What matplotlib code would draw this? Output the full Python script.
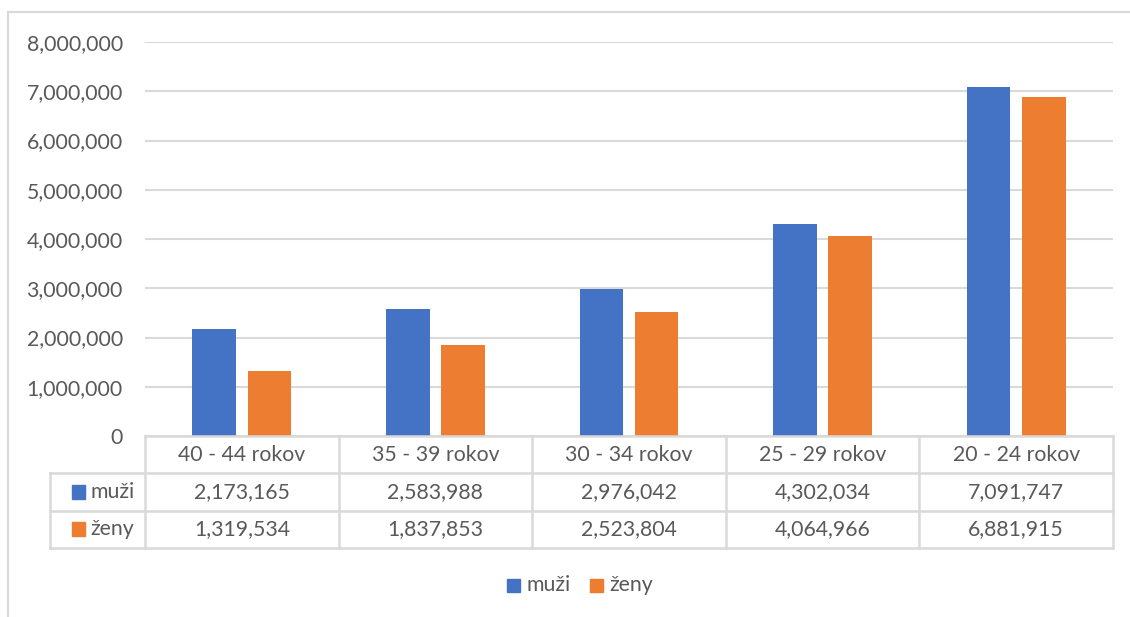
import matplotlib.pyplot as plt
import numpy as np
from matplotlib.patches import Rectangle

# data
categories = ["40 - 44 rokov", "35 - 39 rokov", "30 - 34 rokov", "25 - 29 rokov", "20 - 24 rokov"]
muzi = [2173165, 2583988, 2976042, 4302034, 7091747]
zeny = [1319534, 1837853, 2523804, 4064966, 6881915]
series_names = ["muži", "ženy"]
yticks = [0, 1000000, 2000000, 3000000, 4000000, 5000000, 6000000, 7000000, 8000000]

blue = "#4472C4"
orange = "#ED7D31"
grid_c = "#d9d9d9"
txt_c = "#595959"
plt.rcParams['font.family'] = ['Lato', 'DejaVu Sans']

W, H = 1130, 617
fig = plt.figure(figsize=(W / 100, H / 100), dpi=100)

def fx(px):
    return px / W

def fy(py):
    return 1 - py / H

# outer chart border
fig.add_artist(plt.Line2D([fx(8), fx(8)], [fy(12), 0], color=grid_c, lw=1.5))
fig.add_artist(plt.Line2D([fx(8), 1], [fy(12), fy(12)], color=grid_c, lw=1.5))

left, right, top, base = 145, 1113, 42, 436
ax = fig.add_axes([fx(left), fy(base), fx(right - left), fy(top) - fy(base)])
x = np.arange(len(categories))
w = 0.225
off = 0.285
ax.bar(x - off / 2, muzi, w, color=blue, zorder=3)
ax.bar(x + off / 2, zeny, w, color=orange, zorder=3)
ax.set_xlim(-0.5, len(categories) - 0.5)
ax.set_ylim(0, 8000000)
fs = 15.3
ax.set_yticks(yticks)
ax.set_yticklabels([f"{v:,}" for v in yticks], fontsize=fs, color=txt_c)
ax.yaxis.grid(True, color=grid_c, lw=1.5, zorder=0)
ax.tick_params(axis='y', length=0, pad=16)
ax.set_xticks([])
for s in ax.spines.values():
    s.set_visible(False)

# data table
tl = 50
tb = 548
tax = fig.add_axes([fx(tl), fy(tb), fx(right - tl), fy(base) - fy(tb)])
colw = (right - left) / len(categories)
x0 = -0.5 - (left - tl) / colw
tax.set_xlim(x0, len(categories) - 0.5)
tax.set_ylim(3, 0)
tax.axis('off')
lk = dict(color=grid_c, lw=1.8, clip_on=False)
# horizontal lines
tax.plot([-0.5, len(categories) - 0.5], [0, 0], **lk)
for r in [1, 2, 3]:
    tax.plot([x0, len(categories) - 0.5], [r, r], **lk)
# vertical lines
for c in range(len(categories) + 1):
    tax.plot([c - 0.5, c - 0.5], [0, 3], **lk)
tax.plot([x0, x0], [1, 3], **lk)

for i, cat in enumerate(categories):
    tax.text(i, 0.5, cat, ha='center', va='center', fontsize=fs, color=txt_c)
    tax.text(i, 1.5, f"{muzi[i]:,}", ha='center', va='center', fontsize=fs, color=txt_c)
    tax.text(i, 2.5, f"{zeny[i]:,}", ha='center', va='center', fontsize=fs, color=txt_c)

sq = 13 / colw
for r, (name, col) in enumerate(zip(series_names, [blue, orange])):
    tax.add_patch(Rectangle((x0 + 22 / colw, 1.5 + r - 0.19), sq, 0.38, color=col, clip_on=False))
    tax.text(x0 + 40 / colw, 1.5 + r, name, ha='left', va='center', fontsize=fs, color=txt_c)

# legend
ly = fy(585)
for name, col, px in zip(series_names, [blue, orange], [507, 590]):
    fig.add_artist(Rectangle((fx(px), ly - 6.5 / H), 13 / W, 13 / H, color=col))
    fig.text(fx(px + 19), ly, name, ha='left', va='center', fontsize=fs, color=txt_c)

fig.savefig("out.png", dpi=100)
